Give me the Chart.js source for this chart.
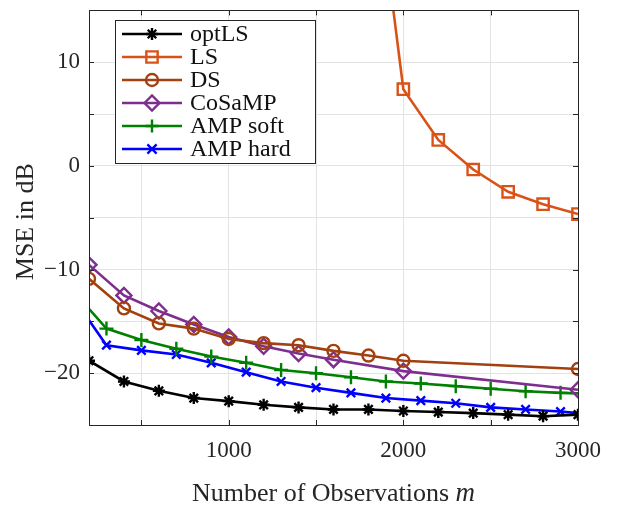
<!DOCTYPE html>
<html>
<head>
<meta charset="utf-8">
<script src="https://cdn.jsdelivr.net/npm/chart.js@4.4.1/dist/chart.umd.min.js"></script>
<style>
  html, body { margin: 0; padding: 0; background: #fff; }
  canvas { display: block; }
</style>
</head>
<body>
<canvas id="mseChart" width="619" height="508"></canvas>
<script>
// number of observations per curve, and MSE in dB
const mOptLS = [200, 400, 600, 800, 1000, 1200, 1400, 1600, 1800, 2000, 2200, 2400, 2600, 2800, 3000];
const optLS  = [-18.8, -20.8, -21.7, -22.4, -22.7, -23.05, -23.3, -23.5, -23.5, -23.65, -23.75, -23.85, -24.0, -24.15, -24.0];

const mLS = [1800, 2000, 2200, 2400, 2600, 2800, 3000];
const LS  = [34, 7.4, 2.5, -0.35, -2.5, -3.7, -4.65];

const mDS = [200, 400, 600, 800, 1000, 1200, 1400, 1600, 1800, 2000, 3000];
const DS  = [-10.9, -13.75, -15.2, -15.7, -16.7, -17.1, -17.3, -17.85, -18.3, -18.8, -19.6];

const mCoSaMP = [200, 400, 600, 800, 1000, 1200, 1400, 1600, 2000, 3000];
const CoSaMP  = [-9.55, -12.5, -14.0, -15.3, -16.5, -17.4, -18.1, -18.7, -19.8, -21.6];

const mAMP    = [200, 300, 500, 700, 900, 1100, 1300, 1500, 1700, 1900, 2100, 2300, 2500, 2700, 2900, 3000];
const AMPsoft = [-13.8, -15.7, -16.8, -17.65, -18.4, -19.0, -19.7, -20.0, -20.4, -20.8, -21.0, -21.25, -21.5, -21.75, -21.9, -21.95];
const AMPhard = [-14.9, -17.3, -17.8, -18.2, -19.0, -19.9, -20.8, -21.4, -21.9, -22.4, -22.65, -22.9, -23.3, -23.5, -23.7, -23.85];

const xTicks = [500, 1000, 1500, 2000, 2500, 3000];
const xLabels = [1000, 2000, 3000];
const yLabels = [-20, -10, 0, 10];

const FONT = "'Liberation Serif', 'DejaVu Serif', serif";
const AXIS = "#262626";
const GRID = "#e3e3e3";

const pts = (xs, ys) => xs.map((x, i) => ({x: x, y: ys[i]}));
// AMP curves: no marker on the first and last sample
const innerOnly = r => c => (c.dataIndex === 0 || c.dataIndex === mAMP.length - 1) ? 0 : r;

function series(label, xs, ys, color, style, radius){
    return {
        label: label,
        data: pts(xs, ys),
        borderColor: color,
        borderWidth: 2.6,
        pointStyle: style,
        pointRadius: radius,
        pointBorderColor: color,
        pointBackgroundColor: "rgba(0,0,0,0)",
        pointBorderWidth: 2.4,
        tension: 0,
        fill: false
    };
}

const datasets = [
    series("optLS", mOptLS, optLS, "#000000", "star", 6),
    series("LS", mLS, LS, "#D95319", "rect", 8),
    series("DS", mDS, DS, "#A2400F", "circle", 6),
    series("CoSaMP", mCoSaMP, CoSaMP, "#7E2F8E", "rectRot", 7.5),
    series("AMP soft", mAMP, AMPsoft, "#008000", "cross", innerOnly(7)),
    series("AMP hard", mAMP, AMPhard, "#0000FF", "crossRot", innerOnly(6))
];

// box, inward ticks, axis titles and the boxed legend
const frame = {
    id: "frame",
    afterDatasetsDraw(chart){
        const ctx = chart.ctx, a = chart.chartArea;
        const sx = chart.scales.x, sy = chart.scales.y;
        ctx.save();
        ctx.strokeStyle = AXIS;
        ctx.lineWidth = 1;
        ctx.beginPath();
        sx.ticks.forEach(t => {
            const x = Math.round(sx.getPixelForValue(t.value)) + 0.5;
            ctx.moveTo(x, a.bottom); ctx.lineTo(x, a.bottom - 5);
            ctx.moveTo(x, a.top); ctx.lineTo(x, a.top + 5);
        });
        sy.ticks.forEach(t => {
            const y = Math.round(sy.getPixelForValue(t.value)) + 0.5;
            ctx.moveTo(a.left, y); ctx.lineTo(a.left + 5, y);
            ctx.moveTo(a.right, y); ctx.lineTo(a.right - 5, y);
        });
        ctx.stroke();
        ctx.strokeRect(Math.round(a.left) + 0.5, Math.round(a.top) + 0.5,
                       Math.round(a.right - a.left), Math.round(a.bottom - a.top));

        // axis titles
        ctx.fillStyle = AXIS;
        ctx.textBaseline = "middle";
        ctx.textAlign = "left";
        const t1 = "Number of Observations ";
        ctx.font = "italic 27px " + FONT;
        const wm = ctx.measureText("m").width;
        ctx.font = "26px " + FONT;
        const w1 = ctx.measureText(t1).width;
        const x0 = (a.left + a.right) / 2 - (w1 + wm) / 2;
        ctx.fillText(t1, x0, 494);
        ctx.font = "italic 27px " + FONT;
        ctx.fillText("m", x0 + w1, 494);

        ctx.save();
        ctx.translate(26, (a.top + a.bottom) / 2 + 4);
        ctx.rotate(-Math.PI / 2);
        ctx.textAlign = "center";
        ctx.font = "26px " + FONT;
        ctx.fillText("MSE in dB", 0, 0);
        ctx.restore();

        // legend
        const L = {x: 115, y: 20, w: 200, h: 143, row: 23, l0: 122, l1: 182, tx: 190};
        ctx.fillStyle = "#fff";
        ctx.fillRect(L.x, L.y, L.w, L.h);
        ctx.strokeStyle = AXIS;
        ctx.lineWidth = 1;
        ctx.strokeRect(L.x + 0.5, L.y + 0.5, L.w, L.h);
        chart.data.datasets.forEach((d, i) => {
            const y = L.y + 14 + i * L.row;
            ctx.strokeStyle = d.borderColor;
            ctx.lineWidth = d.borderWidth;
            ctx.beginPath();
            ctx.moveTo(L.l0, y); ctx.lineTo(L.l1, y);
            ctx.stroke();
            const r = typeof d.pointRadius === "function" ? 6.5 : d.pointRadius;
            ctx.fillStyle = d.pointBackgroundColor;
            ctx.lineWidth = d.pointBorderWidth;
            Chart.helpers.drawPoint(ctx, {pointStyle: d.pointStyle, radius: r, rotation: 0, borderWidth: d.pointBorderWidth}, (L.l0 + L.l1) / 2, y);
            ctx.fillStyle = "#111";
            ctx.font = "24px " + FONT;
            ctx.textAlign = "left";
            ctx.fillText(d.label, L.tx, y + 1);
        });
        ctx.restore();
    }
};

new Chart(document.getElementById("mseChart"), {
    type: "line",
    data: {datasets: datasets},
    options: {
        responsive: false,
        animation: false,
        events: [],
        layout: {padding: {left: 0, right: 41, top: 9, bottom: 0}},
        plugins: {legend: {display: false}, tooltip: {enabled: false}},
        scales: {
            x: {
                type: "linear",
                min: 200, max: 3000,
                afterBuildTicks: s => { s.ticks = xTicks.map(v => ({value: v})); },
                afterFit: s => { s.height = 83; s.paddingLeft = 0; s.paddingRight = 0; },
                ticks: {
                    autoSkip: false, maxRotation: 0, padding: 12,
                    color: AXIS, font: {family: FONT, size: 23},
                    callback: v => xLabels.includes(v) ? String(v) : ""
                },
                grid: {color: GRID, lineWidth: 1, drawTicks: false},
                border: {display: false}
            },
            y: {
                type: "linear",
                min: -25, max: 15,
                ticks: {
                    stepSize: 5, padding: 9,
                    color: AXIS, font: {family: FONT, size: 23},
                    callback: v => yLabels.includes(v) ? (v < 0 ? "\u2212" + Math.abs(v) : String(v)) : ""
                },
                afterFit: s => { s.width = 89; s.paddingTop = 0; s.paddingBottom = 0; },
                grid: {color: GRID, lineWidth: 1, drawTicks: false},
                border: {display: false}
            }
        }
    },
    plugins: [frame]
});
</script>
</body>
</html>
